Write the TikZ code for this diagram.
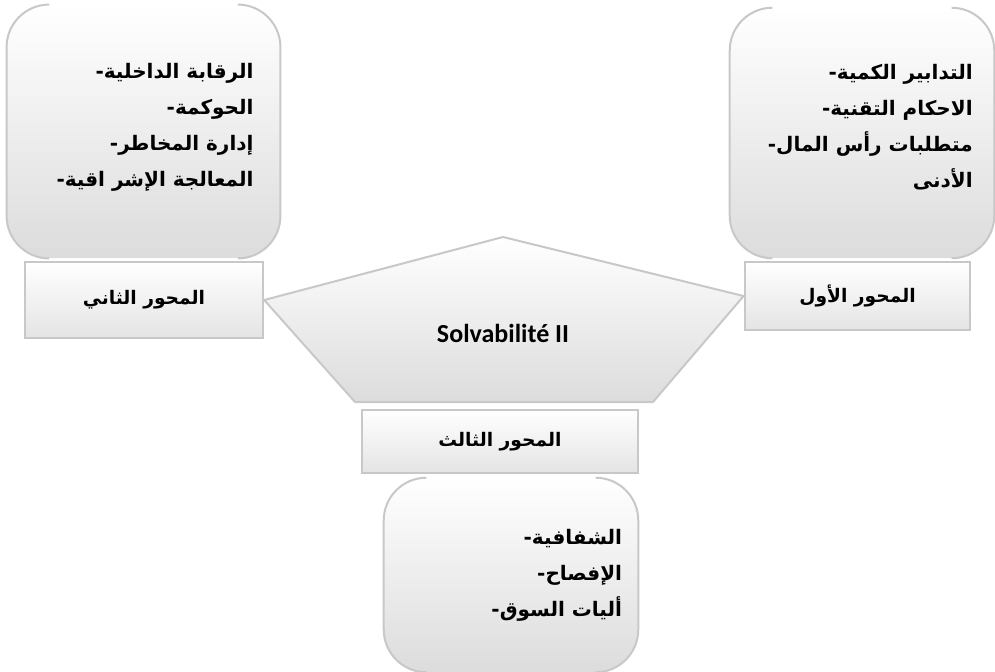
\documentclass[tikz,border=0pt]{standalone}
\usepackage{fontspec}
\setmainfont{Carlito}
\newfontfamily\arabicfont[Script=Arabic]{DejaVu Sans}
\TeXXeTstate=1
\usepackage{tikz}
\usetikzlibrary{positioning}
\usetikzlibrary{calc}

\definecolor{edgegray}{RGB}{200,200,200}
\definecolor{notegray}{RGB}{220,220,220}
\definecolor{axisgray}{RGB}{228,228,228}

\tikzset{
  axisbox/.style={rectangle,draw=edgegray,line width=1.8pt,top color=white,bottom color=axisgray,
    font=\arabicfont\bfseries\fontsize{14}{17}\selectfont},
  notebox/.style={rectangle,rounded corners=32pt,top color=white,bottom color=notegray},
  noteedge/.style={draw=edgegray,line width=1.5pt},
  notetext/.style={anchor=east,align=right,inner sep=0pt,
    font=\arabicfont\bfseries\fontsize{15}{27}\selectfont},
}

\begin{document}
\begin{tikzpicture}[x=0.75pt,y=-0.75pt]
\useasboundingbox (0,0) rectangle (995,671);

%BOXES
\node[notebox,minimum width=205pt,minimum height=190pt](note2)at(143.5,131.5){};
\node[notebox,minimum width=198pt,minimum height=187.5pt](note1)at(862,133){};
\node[notebox,minimum width=190.5pt,minimum height=145.5pt](note3)at(511,575){};

\foreach \n in {note1,note2,note3}{
\draw[noteedge] ([xshift=32pt]\n.north west) arc[start angle=90,end angle=180,radius=32pt]
  -- ([yshift=32pt]\n.south west) arc[start angle=180,end angle=270,radius=32pt];
\draw[noteedge] ([xshift=-32pt]\n.north east) arc[start angle=90,end angle=0,radius=32pt]
  -- ([yshift=32pt]\n.south east) arc[start angle=0,end angle=-90,radius=32pt];
}

%LABELs
\node[axisbox,minimum width=178.5pt,minimum height=57pt](axis2)at(144,300){\beginR المحور الثاني\endR};
\node[axisbox,minimum width=169pt,minimum height=51pt](axis1)at(857.5,296){\beginR المحور الأول\endR};
\node[axisbox,minimum width=207pt,minimum height=47pt](axis3)at(500,441.5){\beginR المحور الثالث\endR};

%CENTER
\coordinate (top) at (503,237);
\coordinate (bl) at (355,402);
\coordinate (br) at (653,402);
\draw[draw=edgegray,line width=1.5pt,top color=white,bottom color=notegray]
  (axis2.east) -- (top) -- (axis1.west) -- (br) -- (bl) -- cycle;
\node[font=\bfseries\fontsize{19.5}{22}\selectfont](solv)at(503,333){Solvabilité II};

%TEXTs
\node[notetext](text2)at([xshift=-20pt,yshift=3pt]note2.east){-\beginR الرقابة الداخلية\endR\\-\beginR الحوكمة\endR\\-\beginR إدارة المخاطر\endR\\-\beginR المعالجة الإشر اقية\endR};
\node[notetext](text1)at([xshift=-16pt,yshift=4pt]note1.east){-\beginR التدابير الكمية\endR\\-\beginR الاحكام التقنية\endR\\-\beginR متطلبات رأس المال\endR\\\beginR الأدنى\endR};
\node[notetext](text3)at([xshift=-12pt]note3.east){-\beginR الشفافية\endR\\-\beginR الإفصاح\endR\\-\beginR أليات السوق\endR};

\end{tikzpicture}
\end{document}
